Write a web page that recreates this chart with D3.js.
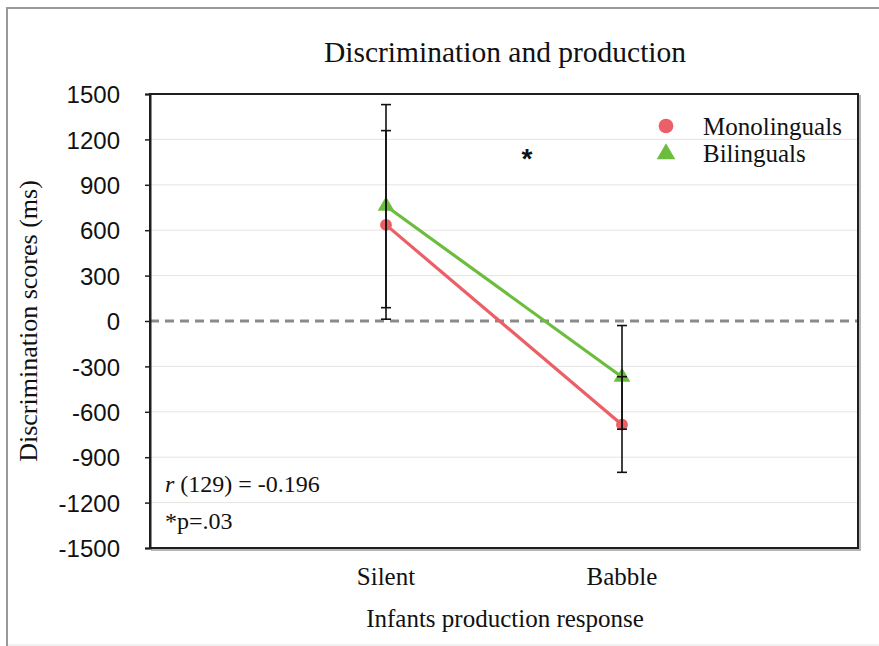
<!DOCTYPE html>
<html>
<head>
<meta charset="utf-8">
<script src="https://cdn.jsdelivr.net/npm/d3@7"></script>
<style>
	body { margin:0; background:#fff; }
	svg { display:block; }
	.serif { font-family: "Liberation Serif", "Times New Roman", serif; fill:#111; }
	.axis-y text { font-family: "Liberation Sans", Arial, sans-serif; font-size:24px; fill:#111; }
</style>
</head>
<body>
<svg id="chart" width="879" height="646"></svg>
<script>
// data
var categories = ["Silent", "Babble"];
var series_names = ["Monolinguals", "Bilinguals"];
var series_colors = ["#EB5F66", "#6CBD3E"];

var mono_mean = [635, -685];
var mono_low  = [12, -1000];
var mono_high = [1258, -368];

var bi_mean = [760, -370];
var bi_low  = [88, -715];
var bi_high = [1430, -30];

var y_ticks = [1500, 1200, 900, 600, 300, 0, -300, -600, -900, -1200, -1500];
var y_domain = [-1500, 1500];

var title = "Discrimination and production";
var x_title = "Infants production response";
var y_title = "Discrimination scores (ms)";
var stat_lines = ["(129) = -0.196", "*p=.03"];

(function(){
	var svg = d3.select("#chart");
	var box = { left:150, right:858, top:94, bottom:548 };

	// outer frame of the figure
	svg.append("line").attr("x1",7).attr("x2",7).attr("y1",8).attr("y2",646)
		.attr("stroke","#9a9a9a").attr("stroke-width",2);
	svg.append("line").attr("x1",6).attr("x2",879).attr("y1",8).attr("y2",8)
		.attr("stroke","#9a9a9a").attr("stroke-width",2);
	svg.append("line").attr("x1",8).attr("x2",879).attr("y1",645).attr("y2",645)
		.attr("stroke","#e2e2e2").attr("stroke-width",1);

	var x = d3.scalePoint().domain(categories).range([box.left, box.right]).padding(1);
	var y = d3.scaleLinear().domain(y_domain).range([box.bottom, box.top]);

	// grid
	svg.append("g").attr("class","grid")
		.selectAll("line").data(y_ticks.filter(function(d){ return d !== 0 && Math.abs(d) !== 1500; }))
		.enter().append("line")
			.attr("x1",box.left).attr("x2",box.right)
			.attr("y1",function(d){ return y(d); }).attr("y2",function(d){ return y(d); })
			.attr("stroke","#e4e4e4").attr("stroke-width",1);

	// zero line
	svg.append("line")
		.attr("x1",box.left).attr("x2",box.right)
		.attr("y1",y(0)).attr("y2",y(0))
		.attr("stroke","#8a8a8a").attr("stroke-width",3)
		.attr("stroke-dasharray","9,6");

	// frame (shadow first)
	svg.append("path")
		.attr("d","M"+(box.left+1)+","+(box.bottom+2)+"H"+(box.right+2)+"V"+(box.top+1))
		.attr("fill","none").attr("stroke","#b5b5b5").attr("stroke-width",2);
	svg.append("rect")
		.attr("x",box.left).attr("y",box.top)
		.attr("width",box.right-box.left).attr("height",box.bottom-box.top)
		.attr("fill","none").attr("stroke","#1e1e1e").attr("stroke-width",2);

	// y axis (plain hyphen for negatives, like the original)
	var yaxis = d3.axisLeft(y).tickValues(y_ticks).tickSize(5).tickPadding(25)
					.tickFormat(function(d){ return String(d); });
	var yg = svg.append("g").attr("class","axis-y")
				.attr("transform","translate("+box.left+",0)")
				.call(yaxis);
	yg.select(".domain").attr("stroke","#1e1e1e").attr("stroke-width",2);
	yg.selectAll(".tick line").attr("stroke","#1e1e1e").attr("stroke-width",1.5);
	yg.selectAll(".tick text").attr("dy","0.36em");

	// x category labels
	svg.append("g").selectAll("text").data(categories).enter()
		.append("text").attr("class","serif")
			.attr("x",function(d){ return x(d); }).attr("y",585)
			.attr("text-anchor","middle").attr("font-size",25)
			.text(function(d){ return d; });

	// titles
	svg.append("text").attr("class","serif")
		.attr("x",505).attr("y",62).attr("text-anchor","middle")
		.attr("font-size",29.5).text(title);
	svg.append("text").attr("class","serif")
		.attr("x",505).attr("y",627).attr("text-anchor","middle")
		.attr("font-size",25).text(x_title);
	svg.append("text").attr("class","serif")
		.attr("transform","translate(37,"+y(0)+") rotate(-90)")
		.attr("text-anchor","middle").attr("font-size",26).text(y_title);

	// lines + markers
	var all = [
		{ name:series_names[0], color:series_colors[0], mean:mono_mean, low:mono_low, high:mono_high, symbol:d3.symbolCircle, size:110 },
		{ name:series_names[1], color:series_colors[1], mean:bi_mean, low:bi_low, high:bi_high, symbol:d3.symbolTriangle, size:120 }
	];
	var line = d3.line()
				.x(function(d,i){ return x(categories[i]); })
				.y(function(d){ return y(d); });

	var sg = svg.append("g").attr("class","series");
	all.forEach(function(s){
		sg.append("path").datum(s.mean)
			.attr("d",line).attr("fill","none")
			.attr("stroke",s.color).attr("stroke-width",3.2);
		sg.selectAll(null).data(s.mean).enter()
			.append("path")
				.attr("transform",function(d,i){ return "translate("+x(categories[i])+","+y(d)+")"; })
				.attr("d",d3.symbol().type(s.symbol).size(s.size))
				.attr("fill",s.color);
	});

	// error bars on top
	var eg = svg.append("g").attr("class","errorbars");
	all.forEach(function(s){
		categories.forEach(function(c,i){
			var cx = x(c);
			eg.append("line").attr("x1",cx).attr("x2",cx)
				.attr("y1",y(s.high[i])).attr("y2",y(s.low[i]))
				.attr("stroke","#111").attr("stroke-width",1.6);
			[s.high[i], s.low[i]].forEach(function(v){
				eg.append("line").attr("x1",cx-5).attr("x2",cx+5)
					.attr("y1",y(v)).attr("y2",y(v))
					.attr("stroke","#111").attr("stroke-width",1.6);
			});
		});
	});

	// significance star
	svg.append("text")
		.attr("x",527).attr("y",168).attr("text-anchor","middle")
		.attr("font-family","Liberation Sans, Arial, sans-serif")
		.attr("font-size",28).attr("font-weight","bold").attr("fill","#111")
		.text("*");

	// stats text
	var st = svg.append("text").attr("class","serif")
				.attr("x",165).attr("y",492).attr("font-size",24);
	st.append("tspan").attr("font-style","italic").text("r");
	st.append("tspan").text(" "+stat_lines[0]);
	svg.append("text").attr("class","serif")
		.attr("x",165).attr("y",529).attr("font-size",24).text(stat_lines[1]);

	// legend
	var lg = svg.append("g").attr("class","legend");
	all.forEach(function(s,i){
		var ly = 126 + i*27;
		lg.append("path")
			.attr("transform","translate(666,"+(ly + (i===1 ? 1 : 0))+")")
			.attr("d",d3.symbol().type(s.symbol).size(i===1 ? 150 : 170))
			.attr("fill",s.color);
		lg.append("text").attr("class","serif")
			.attr("x",703).attr("y",ly+9).attr("font-size",25)
			.text(s.name);
	});
})();
</script>
</body>
</html>
